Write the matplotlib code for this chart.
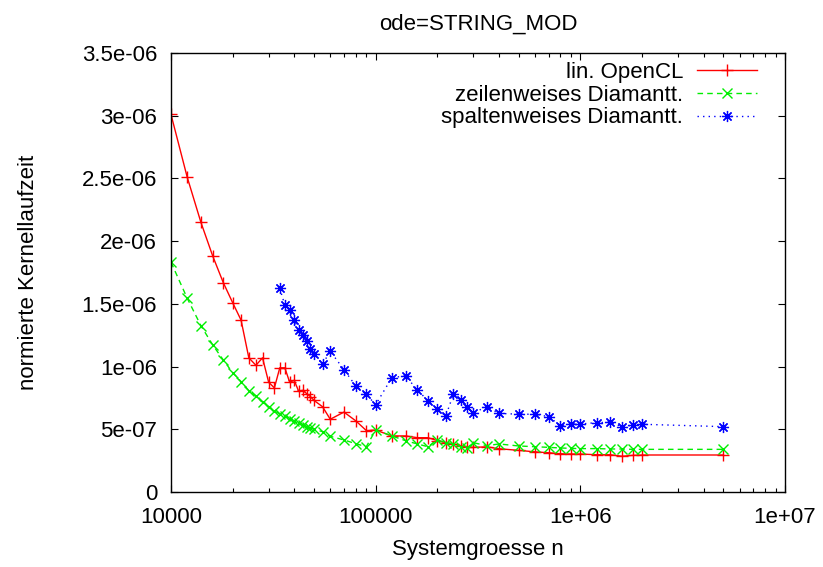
import numpy as np
import matplotlib
matplotlib.use("Agg")
import matplotlib.pyplot as plt
from matplotlib.ticker import FixedLocator, FixedFormatter, LogLocator, NullFormatter

plt.rcParams['font.family'] = ['Liberation Sans', 'DejaVu Sans']

# system sizes n
n_all = [10000, 12000, 14000, 16000, 18000, 20000, 22000, 24000, 26000, 28000,
         30000, 32000, 34000, 36000, 38000, 40000, 42000, 44000, 46000, 48000,
         50000, 55000, 60000, 70000, 80000, 90000, 100000,
         120000, 140000, 160000, 180000, 200000, 220000, 240000, 260000, 280000, 300000,
         350000, 400000, 500000, 600000, 700000, 800000, 900000, 1000000,
         1200000, 1400000, 1600000, 1800000, 2000000, 5000000]
n_spalten = n_all[12:]

# normalised kernel runtimes (in units of 1e-6)
lin_opencl = [3.01, 2.51, 2.15, 1.88, 1.67, 1.51, 1.37, 1.07, 1.01, 1.07,
              0.875, 0.83, 0.99, 0.99, 0.875, 0.89, 0.805, 0.81, 0.785, 0.76,
              0.73, 0.68, 0.58, 0.637, 0.567, 0.49, 0.494,
              0.447, 0.447, 0.433, 0.433, 0.41, 0.393, 0.383, 0.37, 0.356, 0.356,
              0.36, 0.345, 0.332, 0.32, 0.313, 0.305, 0.303, 0.303,
              0.297, 0.297, 0.285, 0.292, 0.295, 0.295]
zeilen_diam = [1.832, 1.545, 1.326, 1.172, 1.053, 0.952, 0.88, 0.808, 0.766, 0.715,
               0.68, 0.646, 0.622, 0.606, 0.582, 0.564, 0.548, 0.534, 0.522, 0.51,
               0.5, 0.481, 0.444, 0.415, 0.385, 0.361, 0.494,
               0.447, 0.409, 0.383, 0.361, 0.415, 0.393, 0.383, 0.361, 0.353, 0.393,
               0.369, 0.383, 0.367, 0.361, 0.356, 0.351, 0.348, 0.346,
               0.346, 0.343, 0.343, 0.34, 0.34, 0.34]
spalten_diam = [1.624, 1.489, 1.451, 1.372, 1.292, 1.252, 1.204, 1.14, 1.10,
                1.02, 1.122, 0.975, 0.845, 0.779, 0.696,
                0.912, 0.925, 0.813, 0.728, 0.659, 0.606, 0.781, 0.734, 0.68, 0.632,
                0.68, 0.627, 0.62, 0.62, 0.601, 0.529, 0.542, 0.542,
                0.553, 0.556, 0.521, 0.532, 0.54, 0.521]

labels = ["lin. OpenCL", "zeilenweises Diamantt.", "spaltenweises Diamantt."]
y_ticks = [0, 0.5e-6, 1e-6, 1.5e-6, 2e-6, 2.5e-6, 3e-6, 3.5e-6]
y_ticklabels = ["0", "5e-07", "1e-06", "1.5e-06", "2e-06", "2.5e-06", "3e-06", "3.5e-06"]
x_ticks = [1e4, 1e5, 1e6, 1e7]
x_ticklabels = ["10000", "100000", "1e+06", "1e+07"]

scale = 1e-6
fig = plt.figure(figsize=(8.23, 5.67), dpi=100)
ax = fig.add_axes([171 / 823, 1 - 492 / 567, (785 - 171) / 823, (492 - 53) / 567])

ax.plot(n_all, np.array(lin_opencl) * scale, color='#ff0000', lw=1.0,
        marker='+', ms=8, mew=1.0, label=labels[0])
ax.plot(n_all, np.array(zeilen_diam) * scale, color='#00ee00', lw=1.0,
        ls=(0, (4, 3)), marker='x', ms=6.5, mew=1.0, label=labels[1])
ax.plot(n_spalten, np.array(spalten_diam) * scale, color='#0000ff', lw=1.0,
        ls=(0, (1, 3)), marker=(8, 2, 0), ms=8, mew=0.9, label=labels[2])

ax.set_xscale('log')
ax.set_xlim(1e4, 1e7)
ax.set_ylim(0, 3.5e-6)
ax.xaxis.set_major_locator(FixedLocator(x_ticks))
ax.xaxis.set_major_formatter(FixedFormatter(x_ticklabels))
ax.xaxis.set_minor_locator(LogLocator(base=10, subs=np.arange(2, 10)))
ax.xaxis.set_minor_formatter(NullFormatter())
ax.yaxis.set_major_locator(FixedLocator(y_ticks))
ax.yaxis.set_major_formatter(FixedFormatter(y_ticklabels))

ax.tick_params(which='both', direction='in', top=True, right=True,
               labelsize=16, width=0.8, color='black')
ax.tick_params(which='major', length=5)
ax.tick_params(which='minor', length=3)
ax.tick_params(axis='y', pad=10)
ax.tick_params(axis='x', pad=11)
for s in ax.spines.values():
    s.set_linewidth(1.0)

ax.set_title("ode=STRING_MOD", fontsize=16, pad=17)
ax.set_xlabel("Systemgroesse n", fontsize=16, labelpad=8)
ax.set_ylabel("normierte Kernellaufzeit", fontsize=16, labelpad=31)

ax.legend(loc='upper right', bbox_to_anchor=(0.955, 0.98), frameon=False,
          markerfirst=False, fontsize=16, handlelength=2.7, handletextpad=0.65,
          labelspacing=0.08, borderpad=0, borderaxespad=0)

fig.savefig("out.png", dpi=100)
